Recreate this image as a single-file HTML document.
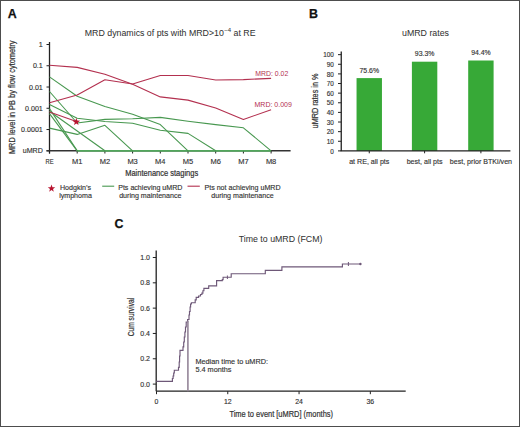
<!DOCTYPE html>
<html><head><meta charset="utf-8"><style>html,body{margin:0;padding:0;background:#fff;}svg{display:block;font-family:"Liberation Sans",sans-serif;}</style></head><body>
<svg width="520" height="427" viewBox="0 0 520 427">
<rect x="0" y="0" width="520" height="427" fill="#fff"/>
<text x="7.8" y="17.9" font-size="12.4" font-weight="bold" fill="#111" stroke="#111" stroke-width="0.25">A</text>
<text x="84.8" y="35.8" font-size="8.8" fill="#333" stroke="#333" stroke-width="0.04">MRD dynamics of pts with MRD&gt;10<tspan font-size="6" dx="0.4" dy="-3.9">−4</tspan><tspan dy="3.9"> at RE</tspan></text>
<text transform="translate(15.2,154.1) rotate(-90)" font-size="8.2" fill="#333" stroke="#333" stroke-width="0.22" textLength="113.5" lengthAdjust="spacingAndGlyphs">MRD level in PB by flow cytometry</text>
<line x1="46.5" y1="44.5" x2="49.5" y2="44.5" stroke="#222" stroke-width="1"/>
<text x="42.8" y="47" font-size="7.1" text-anchor="end" fill="#333" stroke="#333" stroke-width="0.14">1</text>
<line x1="46.5" y1="65.76" x2="49.5" y2="65.76" stroke="#222" stroke-width="1"/>
<text x="42.8" y="68.26" font-size="7.1" text-anchor="end" fill="#333" stroke="#333" stroke-width="0.14">0.1</text>
<line x1="46.5" y1="87.02" x2="49.5" y2="87.02" stroke="#222" stroke-width="1"/>
<text x="42.8" y="89.52" font-size="7.1" text-anchor="end" fill="#333" stroke="#333" stroke-width="0.14">0.01</text>
<line x1="46.5" y1="108.28" x2="49.5" y2="108.28" stroke="#222" stroke-width="1"/>
<text x="42.8" y="110.78" font-size="7.1" text-anchor="end" fill="#333" stroke="#333" stroke-width="0.14">0.001</text>
<line x1="46.5" y1="129.54" x2="49.5" y2="129.54" stroke="#222" stroke-width="1"/>
<text x="42.8" y="132.04" font-size="7.1" text-anchor="end" fill="#333" stroke="#333" stroke-width="0.14">0.0001</text>
<line x1="46.5" y1="150.8" x2="49.5" y2="150.8" stroke="#222" stroke-width="1"/>
<text x="42.8" y="153.3" font-size="7.1" text-anchor="end" fill="#333" stroke="#333" stroke-width="0.14">uMRD</text>
<line x1="49.5" y1="42" x2="49.5" y2="153.5" stroke="#222" stroke-width="1.3"/>
<line x1="46.5" y1="150.8" x2="290.6" y2="150.8" stroke="#333" stroke-width="1.5"/>
<line x1="49.5" y1="150.8" x2="49.5" y2="153.5" stroke="#222" stroke-width="1"/>
<text x="49.5" y="163.9" font-size="7.5" text-anchor="middle" fill="#333" stroke="#333" stroke-width="0.14" textLength="8" lengthAdjust="spacingAndGlyphs">RE</text>
<line x1="77.2" y1="150.8" x2="77.2" y2="153.5" stroke="#222" stroke-width="1"/>
<text x="77.2" y="163.9" font-size="7.5" text-anchor="middle" fill="#333" stroke="#333" stroke-width="0.14">M1</text>
<line x1="104.9" y1="150.8" x2="104.9" y2="153.5" stroke="#222" stroke-width="1"/>
<text x="104.9" y="163.9" font-size="7.5" text-anchor="middle" fill="#333" stroke="#333" stroke-width="0.14">M2</text>
<line x1="132.6" y1="150.8" x2="132.6" y2="153.5" stroke="#222" stroke-width="1"/>
<text x="132.6" y="163.9" font-size="7.5" text-anchor="middle" fill="#333" stroke="#333" stroke-width="0.14">M3</text>
<line x1="160.3" y1="150.8" x2="160.3" y2="153.5" stroke="#222" stroke-width="1"/>
<text x="160.3" y="163.9" font-size="7.5" text-anchor="middle" fill="#333" stroke="#333" stroke-width="0.14">M4</text>
<line x1="188" y1="150.8" x2="188" y2="153.5" stroke="#222" stroke-width="1"/>
<text x="188" y="163.9" font-size="7.5" text-anchor="middle" fill="#333" stroke="#333" stroke-width="0.14">M5</text>
<line x1="215.7" y1="150.8" x2="215.7" y2="153.5" stroke="#222" stroke-width="1"/>
<text x="215.7" y="163.9" font-size="7.5" text-anchor="middle" fill="#333" stroke="#333" stroke-width="0.14">M6</text>
<line x1="243.4" y1="150.8" x2="243.4" y2="153.5" stroke="#222" stroke-width="1"/>
<text x="243.4" y="163.9" font-size="7.5" text-anchor="middle" fill="#333" stroke="#333" stroke-width="0.14">M7</text>
<line x1="271.1" y1="150.8" x2="271.1" y2="153.5" stroke="#222" stroke-width="1"/>
<text x="271.1" y="163.9" font-size="7.5" text-anchor="middle" fill="#333" stroke="#333" stroke-width="0.14">M8</text>
<text x="125.2" y="176.4" font-size="9" fill="#333" stroke="#333" stroke-width="0.22" textLength="73" lengthAdjust="spacingAndGlyphs">Maintenance stagings</text>
<line x1="77.2" y1="150.8" x2="271.1" y2="150.8" stroke="#52a65c" stroke-width="1.8"/>
<polyline points="49.5,76.9 77.2,96.2 104.9,106.5 132.6,114.3 160.3,124.6 188,150.8" fill="none" stroke="#489850" stroke-width="1.1" stroke-linejoin="round" />
<polyline points="49.5,91.5 77.2,123 104.9,119.4 132.6,118.8 160.3,117.4 188,121.2 215.7,124.6 243.4,127.8 271.1,150.8" fill="none" stroke="#489850" stroke-width="1.1" stroke-linejoin="round" />
<polyline points="49.5,104.5 77.2,118.2 104.9,121.5 132.6,123.3 160.3,130.3 188,133.4 215.7,150.8" fill="none" stroke="#489850" stroke-width="1.1" stroke-linejoin="round" />
<polyline points="49.5,108.6 77.2,150.8" fill="none" stroke="#489850" stroke-width="1.1" stroke-linejoin="round" />
<polyline points="49.5,113.6 77.2,150.8" fill="none" stroke="#489850" stroke-width="1.1" stroke-linejoin="round" />
<polyline points="49.5,111.3 104.9,150.8" fill="none" stroke="#489850" stroke-width="1.1" stroke-linejoin="round" />
<polyline points="49.5,128.1 77.2,134.4 104.9,125.3 132.6,150.8" fill="none" stroke="#489850" stroke-width="1.1" stroke-linejoin="round" />
<polyline points="49.5,65.2 77.2,67.4 104.9,74.2 132.6,84.2 160.3,96.9 188,100.1 215.7,108 243.4,119.4 271.1,109.8" fill="none" stroke="#b3304f" stroke-width="1.1" stroke-linejoin="round" />
<polyline points="49.5,102.8 77.2,95 104.9,79.7 132.6,84 160.3,75.5 188,75.5 215.7,80 243.4,79.6 271.1,78.4" fill="none" stroke="#b3304f" stroke-width="1.1" stroke-linejoin="round" />
<polyline points="49.5,112 77.2,121.8" fill="none" stroke="#b3304f" stroke-width="1.1" stroke-linejoin="round" />
<polygon points="76.3,118 77.24,120.61 80.01,120.69 77.82,122.39 78.59,125.06 76.3,123.5 74.01,125.06 74.78,122.39 72.59,120.69 75.36,120.61" fill="#b8132f"/>
<text x="255.3" y="75.9" font-size="6.9" fill="#b3304f">MRD: 0.02</text>
<text x="254.5" y="106.6" font-size="7" fill="#b3304f">MRD: 0.009</text>
<polygon points="51.5,184.6 52.44,187.21 55.21,187.29 53.02,188.99 53.79,191.66 51.5,190.1 49.21,191.66 49.98,188.99 47.79,187.29 50.56,187.21" fill="#b8132f"/>
<text x="75.5" y="190.3" font-size="7.1" text-anchor="middle" fill="#333" stroke="#333" stroke-width="0.14">Hodgkin’s</text>
<text x="75.5" y="197.8" font-size="7.1" text-anchor="middle" fill="#333" stroke="#333" stroke-width="0.14">lymphoma</text>
<line x1="102.2" y1="186.2" x2="114.2" y2="186.2" stroke="#489850" stroke-width="1.1"/>
<text x="150.3" y="190.3" font-size="7.1" text-anchor="middle" fill="#333" stroke="#333" stroke-width="0.14">Pts achieving uMRD</text>
<text x="150.3" y="197.8" font-size="7.1" text-anchor="middle" fill="#333" stroke="#333" stroke-width="0.14">during maintenance</text>
<line x1="187.5" y1="186.2" x2="199.8" y2="186.2" stroke="#b3304f" stroke-width="1.1"/>
<text x="242.5" y="190.3" font-size="7.1" text-anchor="middle" fill="#333" stroke="#333" stroke-width="0.14">Pts not achieving uMRD</text>
<text x="242.5" y="197.8" font-size="7.1" text-anchor="middle" fill="#333" stroke="#333" stroke-width="0.14">during maintenance</text>
<text x="309" y="17.9" font-size="12.4" font-weight="bold" fill="#111" stroke="#111" stroke-width="0.25">B</text>
<text x="425.5" y="35.8" font-size="8.8" text-anchor="middle" fill="#333" stroke="#333" stroke-width="0.04">uMRD rates</text>
<text transform="translate(317.7,128.4) rotate(-90)" font-size="8.4" fill="#333" stroke="#333" stroke-width="0.22" textLength="54.8" lengthAdjust="spacingAndGlyphs">uMRD rates in %</text>
<line x1="338" y1="150.9" x2="341.25" y2="150.9" stroke="#222" stroke-width="1"/>
<text x="333.9" y="153.5" font-size="6.4" text-anchor="end" fill="#333" stroke="#333" stroke-width="0.14">0</text>
<line x1="338" y1="141.28" x2="341.25" y2="141.28" stroke="#222" stroke-width="1"/>
<text x="333.9" y="143.88" font-size="6.4" text-anchor="end" fill="#333" stroke="#333" stroke-width="0.14">10</text>
<line x1="338" y1="131.65" x2="341.25" y2="131.65" stroke="#222" stroke-width="1"/>
<text x="333.9" y="134.25" font-size="6.4" text-anchor="end" fill="#333" stroke="#333" stroke-width="0.14">20</text>
<line x1="338" y1="122.03" x2="341.25" y2="122.03" stroke="#222" stroke-width="1"/>
<text x="333.9" y="124.62" font-size="6.4" text-anchor="end" fill="#333" stroke="#333" stroke-width="0.14">30</text>
<line x1="338" y1="112.4" x2="341.25" y2="112.4" stroke="#222" stroke-width="1"/>
<text x="333.9" y="115" font-size="6.4" text-anchor="end" fill="#333" stroke="#333" stroke-width="0.14">40</text>
<line x1="338" y1="102.78" x2="341.25" y2="102.78" stroke="#222" stroke-width="1"/>
<text x="333.9" y="105.38" font-size="6.4" text-anchor="end" fill="#333" stroke="#333" stroke-width="0.14">50</text>
<line x1="338" y1="93.15" x2="341.25" y2="93.15" stroke="#222" stroke-width="1"/>
<text x="333.9" y="95.75" font-size="6.4" text-anchor="end" fill="#333" stroke="#333" stroke-width="0.14">60</text>
<line x1="338" y1="83.53" x2="341.25" y2="83.53" stroke="#222" stroke-width="1"/>
<text x="333.9" y="86.12" font-size="6.4" text-anchor="end" fill="#333" stroke="#333" stroke-width="0.14">70</text>
<line x1="338" y1="73.9" x2="341.25" y2="73.9" stroke="#222" stroke-width="1"/>
<text x="333.9" y="76.5" font-size="6.4" text-anchor="end" fill="#333" stroke="#333" stroke-width="0.14">80</text>
<line x1="338" y1="64.28" x2="341.25" y2="64.28" stroke="#222" stroke-width="1"/>
<text x="333.9" y="66.88" font-size="6.4" text-anchor="end" fill="#333" stroke="#333" stroke-width="0.14">90</text>
<line x1="338" y1="54.65" x2="341.25" y2="54.65" stroke="#222" stroke-width="1"/>
<text x="333.9" y="57.25" font-size="6.4" text-anchor="end" fill="#333" stroke="#333" stroke-width="0.14">100</text>
<rect x="356.55" y="78.1" width="25.4" height="72.8" fill="#37a937"/>
<text x="369.25" y="72.8" font-size="6.9" text-anchor="middle" fill="#333" stroke="#333" stroke-width="0.14">75.6%</text>
<line x1="369.25" y1="150.9" x2="369.25" y2="153.3" stroke="#222" stroke-width="1"/>
<text x="369.25" y="163.5" font-size="7.1" text-anchor="middle" fill="#333" stroke="#333" stroke-width="0.14">at RE, all pts</text>
<rect x="411.9" y="61.7" width="25.4" height="89.2" fill="#37a937"/>
<text x="424.6" y="56.4" font-size="6.9" text-anchor="middle" fill="#333" stroke="#333" stroke-width="0.14">93.3%</text>
<line x1="424.6" y1="150.9" x2="424.6" y2="153.3" stroke="#222" stroke-width="1"/>
<text x="424.6" y="163.5" font-size="7.1" text-anchor="middle" fill="#333" stroke="#333" stroke-width="0.14">best, all pts</text>
<rect x="468.2" y="60.5" width="25.4" height="90.4" fill="#37a937"/>
<text x="480.9" y="55.2" font-size="6.9" text-anchor="middle" fill="#333" stroke="#333" stroke-width="0.14">94.4%</text>
<line x1="480.9" y1="150.9" x2="480.9" y2="153.3" stroke="#222" stroke-width="1"/>
<text x="480.9" y="163.5" font-size="7.1" text-anchor="middle" fill="#333" stroke="#333" stroke-width="0.14">best, prior BTKi/ven</text>
<line x1="341.25" y1="51.5" x2="341.25" y2="150.9" stroke="#222" stroke-width="1.3"/>
<line x1="340.6" y1="150.9" x2="510.4" y2="150.9" stroke="#222" stroke-width="1.3"/>
<text x="114.4" y="227.7" font-size="12.4" font-weight="bold" fill="#111" stroke="#111" stroke-width="0.25">C</text>
<text x="238.7" y="241.5" font-size="8.8" fill="#333" stroke="#333" stroke-width="0.04">Time to uMRD (FCM)</text>
<line x1="152.8" y1="384.1" x2="156.2" y2="384.1" stroke="#222" stroke-width="1"/>
<text x="150" y="386.6" font-size="7" text-anchor="end" fill="#333" stroke="#333" stroke-width="0.14">0.0</text>
<line x1="152.8" y1="358.78" x2="156.2" y2="358.78" stroke="#222" stroke-width="1"/>
<text x="150" y="361.28" font-size="7" text-anchor="end" fill="#333" stroke="#333" stroke-width="0.14">0.2</text>
<line x1="152.8" y1="333.46" x2="156.2" y2="333.46" stroke="#222" stroke-width="1"/>
<text x="150" y="335.96" font-size="7" text-anchor="end" fill="#333" stroke="#333" stroke-width="0.14">0.4</text>
<line x1="152.8" y1="308.14" x2="156.2" y2="308.14" stroke="#222" stroke-width="1"/>
<text x="150" y="310.64" font-size="7" text-anchor="end" fill="#333" stroke="#333" stroke-width="0.14">0.6</text>
<line x1="152.8" y1="282.82" x2="156.2" y2="282.82" stroke="#222" stroke-width="1"/>
<text x="150" y="285.32" font-size="7" text-anchor="end" fill="#333" stroke="#333" stroke-width="0.14">0.8</text>
<line x1="152.8" y1="257.5" x2="156.2" y2="257.5" stroke="#222" stroke-width="1"/>
<text x="150" y="260" font-size="7" text-anchor="end" fill="#333" stroke="#333" stroke-width="0.14">1.0</text>
<line x1="156.5" y1="391.2" x2="156.5" y2="394.2" stroke="#222" stroke-width="1"/>
<text x="156.5" y="404.1" font-size="6.9" text-anchor="middle" fill="#333" stroke="#333" stroke-width="0.14">0</text>
<line x1="227.78" y1="391.2" x2="227.78" y2="394.2" stroke="#222" stroke-width="1"/>
<text x="227.78" y="404.1" font-size="6.9" text-anchor="middle" fill="#333" stroke="#333" stroke-width="0.14">12</text>
<line x1="299.06" y1="391.2" x2="299.06" y2="394.2" stroke="#222" stroke-width="1"/>
<text x="299.06" y="404.1" font-size="6.9" text-anchor="middle" fill="#333" stroke="#333" stroke-width="0.14">24</text>
<line x1="370.34" y1="391.2" x2="370.34" y2="394.2" stroke="#222" stroke-width="1"/>
<text x="370.34" y="404.1" font-size="6.9" text-anchor="middle" fill="#333" stroke="#333" stroke-width="0.14">36</text>
<line x1="156.2" y1="250.6" x2="156.2" y2="391.2" stroke="#222" stroke-width="1.3"/>
<line x1="156.2" y1="391.2" x2="405.7" y2="391.2" stroke="#222" stroke-width="1.3"/>
<text x="229.4" y="417.3" font-size="9.5" fill="#333" stroke="#333" stroke-width="0.22" textLength="103.6" lengthAdjust="spacingAndGlyphs">Time to event [uMRD] (months)</text>
<text transform="translate(134,336.3) rotate(-90)" font-size="8.2" fill="#333" stroke="#333" stroke-width="0.22" textLength="38.5" lengthAdjust="spacingAndGlyphs">Cum survival</text>
<path d="M156.2,381.4 H172.4 V378.5 H173.1 V376 H173.7 V373 H174.3 V370.2 H178.5 V367.4 H179.2 V362 H179.6 V356 H180 V350.4 H183 V346.8 H183.7 V342 H184.3 V337 H184.9 V332 H185.5 V327 H186.2 V322 H187.6 V319.5 H189 V315 H189.5 V311.5 H190.1 V307 H190.6 V304 H191.4 V302.7 H195.2 V299.8 H196.2 V297.4 H198.6 V296 H200.5 V294.5 H201.9 V293.1 H202.9 V290.7 H203.9 V288.3 H208.7 V285.9 H216.6 V280.6 H222.3 V279.6 H223.1 V277.2 H231.2 V273.7 H265.3 V270.4 H281.9 V266.8 H342.4 V264 H360.4" fill="none" stroke="#6e5878" stroke-width="1.15"/>
<line x1="227.4" y1="275.5" x2="227.4" y2="279" stroke="#6e5878" stroke-width="1"/>
<line x1="348.4" y1="262" x2="348.4" y2="266" stroke="#6e5878" stroke-width="1"/>
<circle cx="360.4" cy="264" r="1.2" fill="#6e5878"/>
<line x1="187.9" y1="320.8" x2="187.9" y2="391.2" stroke="#948598" stroke-width="1.6"/>
<text x="195.4" y="363.6" font-size="7.3" fill="#333" stroke="#333" stroke-width="0.14">Median time to uMRD:</text>
<text x="195.4" y="371.6" font-size="7.3" fill="#333" stroke="#333" stroke-width="0.14">5.4 months</text>
<rect x="0.5" y="0.5" width="519" height="426" fill="none" stroke="#4d4d4d" stroke-width="1"/>
</svg>
</body></html>
